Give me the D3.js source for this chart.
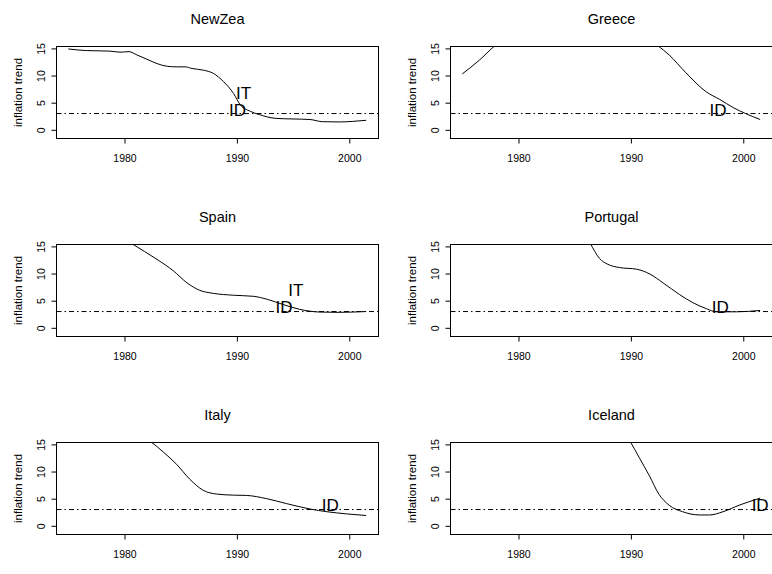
<!DOCTYPE html>
<html lang="en">
<head>
<meta charset="UTF-8">
<title>inflation trend</title>
<script src="https://cdn.jsdelivr.net/npm/d3@7"></script>
<style>
    body { margin: 0; background: #fff; }
    svg { display: block; font-family: "Liberation Sans", Arial, sans-serif; }
    .tick text { font-size: 10.5px; fill: #000; }
    .tick line { stroke: #000; }
</style>
</head>
<body>
<svg id="chart" width="772" height="574"></svg>
<script>
// panels, row by row
var countries = ["NewZea", "Greece", "Spain", "Portugal", "Italy", "Iceland"];
var yearTicks = [1980, 1990, 2000];
var trendTicks = [0, 5, 10, 15];
var targetLevel = 3;

// trend series (values above 15 are cut off by the frame)
var newZeaYear  = [1975.0, 1976.6, 1978.7, 1979.6, 1980.4, 1981.1, 1982.0, 1982.9, 1983.8, 1984.6, 1985.4, 1986.0, 1987.0, 1987.9, 1988.8, 1989.7, 1990.3, 1991.2, 1992.0, 1993.5, 1995.0, 1996.5, 1997.6, 1999.1, 2000.3, 2001.5];
var newZeaTrend = [14.9, 14.6, 14.5, 14.3, 14.4, 13.8, 13.0, 12.2, 11.7, 11.6, 11.6, 11.3, 11.0, 10.4, 8.9, 6.7, 4.6, 3.4, 2.8, 2.1, 2.0, 1.9, 1.5, 1.45, 1.55, 1.75];

var greeceYear  = [1975.0, 1976.5, 1977.9, 1980, 1983, 1986, 1989, 1991, 1992.4, 1993.4, 1994.9, 1996.7, 1997.9, 1999.1, 2000.2, 2001.5];
var greeceTrend = [10.3, 12.8, 15.5, 18.5, 20.0, 20.5, 19.5, 17.5, 15.5, 13.8, 10.5, 7.0, 5.6, 4.1, 3.0, 1.9];

var spainYear  = [1975, 1977, 1979.5, 1980.65, 1982.9, 1984.35, 1985.55, 1986.7, 1987.9, 1989.7, 1991.5, 1992.7, 1994.1, 1995.6, 1997.4, 1999.0, 2001.5];
var spainTrend = [16.5, 19.5, 17.0, 15.5, 12.6, 10.5, 8.3, 6.9, 6.35, 6.0, 5.8, 5.25, 4.3, 3.4, 2.9, 2.85, 3.0];

var portugalYear  = [1975, 1979, 1983, 1985.5, 1986.4, 1987.2, 1987.95, 1989.0, 1990.5, 1991.7, 1992.85, 1994.35, 1995.55, 1996.75, 1997.6, 1999.4, 2001.5];
var portugalTrend = [20, 22, 24, 19, 15.5, 12.8, 11.7, 11.1, 10.8, 9.9, 8.3, 6.1, 4.6, 3.5, 2.95, 2.95, 3.2];

var italyYear  = [1975, 1978, 1981, 1982.4, 1983.45, 1984.65, 1985.8, 1987.0, 1988.2, 1989.7, 1990.85, 1992.65, 1994.4, 1996.5, 1998.0, 1999.75, 2001.5];
var italyTrend = [17, 16.5, 17, 15.4, 13.6, 11.3, 8.6, 6.55, 5.85, 5.65, 5.6, 5.0, 4.1, 3.1, 2.6, 2.2, 1.9];

var icelandYear  = [1975, 1980, 1985, 1988, 1989.95, 1990.75, 1991.65, 1992.5, 1993.4, 1994.6, 1996.1, 1997.0, 1998.2, 1999.7, 2001.5];
var icelandTrend = [35, 45, 30, 22, 15.5, 12.55, 9.2, 5.8, 3.8, 2.6, 2.0, 2.0, 2.6, 3.85, 5.1];

// text marks: [year, level], null where a panel has none
var itMarks = [[1990.6, 6.8], null, [1995.25, 6.9], null, null, null];
var idMarks = [[1990.05, 3.7], [1997.75, 3.7], [1994.2, 3.8], [1997.95, 3.8], [1998.3, 3.8], [2001.5, 3.8]];

var years = [newZeaYear, greeceYear, spainYear, portugalYear, italyYear, icelandYear];
var trends = [newZeaTrend, greeceTrend, spainTrend, portugalTrend, italyTrend, icelandTrend];

(function () {
    var svg = d3.select("#chart");
    var colLeft = [56.5, 450.5],
        rowTop = [46.5, 244.5, 442.5],
        plotW = 322,
        plotH = 92;

    var x = d3.scaleLinear().domain([1973.95, 2002.6]).range([0, plotW]);
    var y = d3.scaleLinear().domain([-1.6, 15.35]).range([plotH, 0]);

    var line = d3.line()
        .x(function (d) { return x(d[0]); })
        .y(function (d) { return y(d[1]); })
        .curve(d3.curveMonotoneX);

    countries.forEach(function (name, i) {
        var left = colLeft[i % 2], top = rowTop[Math.floor(i / 2)];
        var g = svg.append("g").attr("transform", "translate(" + left + "," + top + ")");

        g.append("clipPath").attr("id", "clip" + i)
            .append("rect").attr("width", plotW).attr("height", plotH);

        // title
        g.append("text")
            .attr("x", plotW / 2).attr("y", -22.5)
            .attr("text-anchor", "middle")
            .style("font-size", "14.5px")
            .text(name);

        // y label
        g.append("text")
            .attr("transform", "translate(-38.5," + (plotH / 2) + ") rotate(-90)")
            .attr("dy", "0.36em")
            .attr("text-anchor", "middle")
            .style("font-size", "11.5px")
            .text("inflation trend");

        // x axis
        var xa = g.append("g").attr("transform", "translate(0," + plotH + ")")
            .call(d3.axisBottom(x).tickValues(yearTicks).tickSize(5).tickPadding(11).tickFormat(d3.format("d")));
        xa.select(".domain").remove();

        // y axis, labels turned like R does
        var ya = g.append("g")
            .call(d3.axisLeft(y).tickValues(trendTicks).tickSize(5));
        ya.select(".domain").remove();
        ya.selectAll(".tick text")
            .attr("transform", "rotate(-90)")
            .attr("x", 0).attr("y", -15).attr("dy", "0.36em")
            .style("text-anchor", "middle");

        var inner = g.append("g").attr("clip-path", "url(#clip" + i + ")");

        // target line
        inner.append("line")
            .attr("x1", 0).attr("x2", plotW)
            .attr("y1", y(targetLevel)).attr("y2", y(targetLevel))
            .attr("stroke", "#000").attr("stroke-width", 1)
            .attr("stroke-dasharray", "5,3,1.5,3");

        inner.append("path")
            .datum(d3.zip(years[i], trends[i]))
            .attr("d", line)
            .attr("fill", "none")
            .attr("stroke", "#000")
            .attr("stroke-width", 1);

        // frame
        g.append("rect")
            .attr("width", plotW).attr("height", plotH)
            .attr("fill", "none").attr("stroke", "#000").attr("stroke-width", 1);

        [[itMarks[i], "IT"], [idMarks[i], "ID"]].forEach(function (m) {
            if (!m[0]) return;
            g.append("text")
                .attr("x", x(m[0][0])).attr("y", y(m[0][1]))
                .attr("dy", "0.36em")
                .attr("text-anchor", "middle")
                .style("font-size", "17px")
                .text(m[1]);
        });
    });
})();
</script>
</body>
</html>
